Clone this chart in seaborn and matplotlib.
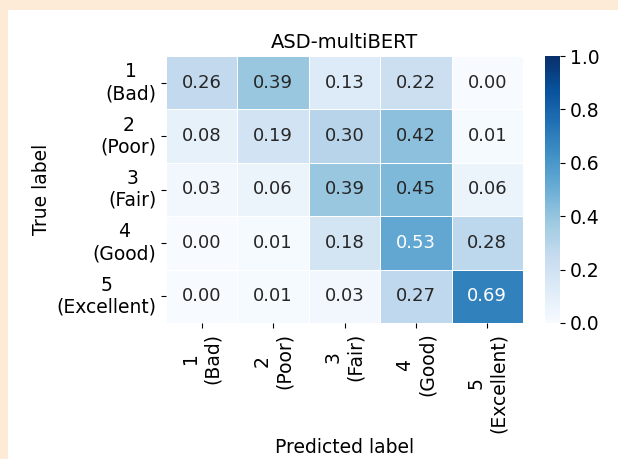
import numpy as np
import matplotlib
matplotlib.use("Agg")
import matplotlib.pyplot as plt
import seaborn as sns
from matplotlib.patches import Rectangle

# Confusion matrix values (rows = true, cols = predicted)
labels = ["1\n(Bad)", "2\n(Poor)", "3\n(Fair)", "4\n(Good)", "5\n(Excellent)"]
row_bad = [0.26, 0.39, 0.13, 0.22, 0.00]
row_poor = [0.08, 0.19, 0.30, 0.42, 0.01]
row_fair = [0.03, 0.06, 0.39, 0.45, 0.06]
row_good = [0.00, 0.01, 0.18, 0.53, 0.28]
row_excellent = [0.00, 0.01, 0.03, 0.27, 0.69]

cm = np.array([row_bad, row_poor, row_fair, row_good, row_excellent])

fig = plt.figure(figsize=(6.18, 4.59), dpi=100, facecolor="#fdebd7")
# white panel inside the beige frame
fig.patches.append(Rectangle((8 / 618, 0), 1, 1 - 10 / 459, transform=fig.transFigure,
                             facecolor="white", edgecolor="none", zorder=-1))

ax = fig.add_axes([166 / 618, 1 - 323 / 459, 357 / 618, 267 / 459])
cax = fig.add_axes([545 / 618, 1 - 323 / 459, 15 / 618, 267 / 459])

sns.heatmap(
    cm,
    annot=True,
    fmt=".2f",
    cmap="Blues",
    vmin=0,
    vmax=1,
    linewidths=0.5,
    linecolor="white",
    xticklabels=labels,
    yticklabels=labels,
    annot_kws={"fontsize": 13},
    ax=ax,
    cbar_ax=cax,
)

ax.set_title("ASD-multiBERT", fontsize=14)
ax.set_xlabel("Predicted label", fontsize=13.5)
ax.set_ylabel("True label", fontsize=13.5)
for t in ax.get_xticklabels():
    t.set_rotation(90)
    t.set_multialignment("center")
    t.set_fontsize(13.5)
for t in ax.get_yticklabels():
    t.set_rotation(0)
    t.set_multialignment("center")
    t.set_fontsize(13.5)
cax.tick_params(labelsize=13.5)

fig.savefig("out.png", dpi=100, facecolor=fig.get_facecolor())
